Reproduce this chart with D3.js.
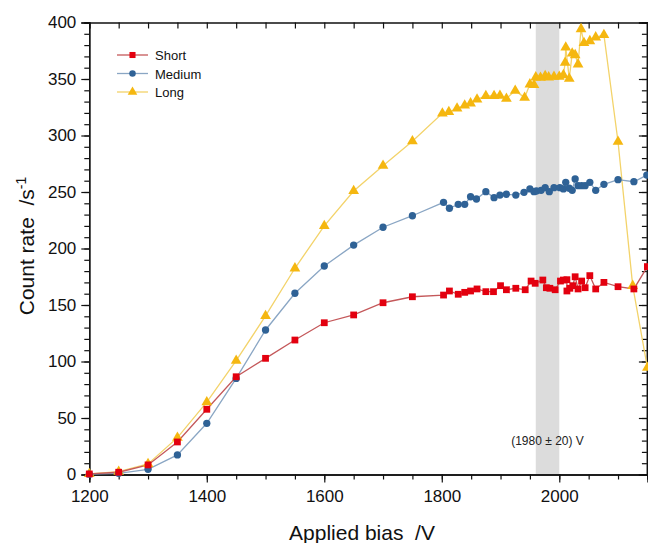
<!DOCTYPE html>
<html><head><meta charset="utf-8">
<script src="https://cdn.jsdelivr.net/npm/d3@7"></script>
<style>html,body{margin:0;padding:0;background:#fff;}svg{display:block;font-family:"Liberation Sans",Arial,sans-serif;}</style>
</head><body>
<svg id="chart" width="648" height="543"></svg>
<script>
const xTicks = [1200,1400,1600,1800,2000];
const yTicks = [0,50,100,150,200,250,300,350,400];
const seriesNames = ["Short","Medium","Long"];

const shortBias = [1200,1250,1300,1350,1400,1450,1500,1550,1600,1650,1700,1750,1803,1813,1828,1839,1849,1860,1875,1888,1900,1910,1926,1942,1952,1959,1972,1978,1984,1993,2002,2007,2013,2013,2018,2023,2027,2032,2038,2044,2052,2062,2076,2100,2127,2150];
const shortRate = [0.5,2,8.5,28.8,57.7,86.5,102.8,119,134.3,141.2,152,157.3,158.8,162.4,159.5,161.2,162.4,164.2,161.8,161.8,167.1,163.5,164.8,163.5,171.2,169.2,172.1,165.3,164.8,163.5,171.2,172.1,172.4,162.4,164.8,167.1,175,164.2,171.2,165.3,176,164.2,170,166.2,164.2,184];

const mediumBias = [1200,1250,1300,1350,1400,1450,1500,1550,1600,1650,1700,1750,1803,1813,1828,1839,1849,1859,1875,1889,1899,1910,1926,1940,1950,1957,1961,1969,1976,1983,1991,2001,2007,2011,2017,2022,2027,2032,2038,2044,2052,2062,2076,2100,2127,2149];
const mediumRate = [0.3,1,4.6,17.3,45.3,85,127.9,160.4,184.5,203,218.8,229,240.9,235.6,239.1,239.1,245.8,243.8,250.3,245,247.3,248,247.3,249.7,252.7,250.3,250.9,251.5,253.8,250.3,253.8,253.8,252.7,258.6,253.3,251.5,261.5,255.6,255.6,255.6,258.6,251.5,256.8,260.9,259.1,265];

const longBias = [1200,1250,1300,1350,1400,1450,1500,1550,1600,1650,1700,1750,1801,1812,1826,1839,1849,1860,1875,1889,1899,1910,1925,1941,1950,1957,1960,1968,1976,1982,1991,2000,2007,2010,2011,2017,2022,2027,2032,2037,2042,2052,2062,2076,2100,2125,2150];
const longRate = [0.5,2.5,9.3,32.6,64,100.7,140.3,182.5,220,250.9,273.3,295,319.6,320.8,324,326.7,328.5,332,335,335,335.2,332.6,339.7,333.5,345.3,344.7,351.5,351.2,352.7,351.5,352,352,353.5,364.4,378,350.3,372.7,371.2,363,394.2,382,383.6,386.9,389,294.5,167,94.5];

const bandRange = [1960,2000];
const bandLabel = "(1980 \u00b1 20) V";

const svg = d3.select("#chart");
const x = d3.scaleLinear().domain([1200,2150]).range([89.3,647.4]);
const y = d3.scaleLinear().domain([0,400]).range([474.5,22.5]);

// band
svg.append("rect").attr("x",x(bandRange[0])).attr("y",y(400))
  .attr("width",x(bandRange[1])-x(bandRange[0])).attr("height",y(0)-y(400))
  .attr("fill","#dcdcdc");
svg.append("text").attr("x",x(1980)).attr("y",y(30)+4).attr("text-anchor","middle")
  .attr("font-size",12).attr("fill","#222").text(bandLabel);

// axes
const axisColor = "#111";
const minorX = d3.range(1200,2151,50);
const minorY = d3.range(0,401,10);
function styleAxis(g){g.select(".domain").attr("stroke",axisColor).attr("stroke-width",1.3);g.selectAll(".tick line").attr("stroke",axisColor).attr("stroke-width",1.2);}

svg.append("g").attr("transform",`translate(0,${y(0)})`)
  .call(d3.axisBottom(x).tickValues(minorX).tickSize(5).tickFormat(""))
  .call(styleAxis);
svg.append("g").attr("transform",`translate(0,${y(0)})`)
  .call(d3.axisBottom(x).tickValues(xTicks).tickSize(8).tickPadding(7).tickFormat(d3.format("d")))
  .call(styleAxis)
  .call(g=>g.selectAll("text").attr("font-size",17).attr("fill","#111").attr("font-family","Liberation Sans, Arial"));
svg.append("g").attr("transform",`translate(0,${y(400)})`)
  .call(d3.axisBottom(x).tickValues(minorX).tickSize(6).tickFormat(""))
  .call(styleAxis);

svg.append("g").attr("transform",`translate(${x(1200)},0)`)
  .call(d3.axisLeft(y).tickValues(minorY).tickSize(5).tickFormat(""))
  .call(styleAxis);
svg.append("g").attr("transform",`translate(${x(1200)},0)`)
  .call(d3.axisLeft(y).tickValues(yTicks).tickSize(8).tickPadding(5).tickFormat(d3.format("d")))
  .call(styleAxis)
  .call(g=>g.selectAll("text").attr("font-size",17).attr("fill","#111").attr("font-family","Liberation Sans, Arial"));
svg.append("g").attr("transform",`translate(${x(2150)-0.5},0)`)
  .call(d3.axisLeft(y).tickValues(minorY).tickSize(5).tickFormat(""))
  .call(styleAxis);
svg.append("g").attr("transform",`translate(${x(2150)-0.5},0)`)
  .call(d3.axisLeft(y).tickValues(yTicks).tickSize(8).tickFormat(""))
  .call(styleAxis);

// axis titles
svg.append("text").attr("x",362).attr("y",540).attr("text-anchor","middle")
  .attr("font-size",21).attr("fill","#111").text("Applied bias\u00a0\u00a0/V");
const yl = svg.append("text").attr("transform","translate(34,246) rotate(-90)")
  .attr("text-anchor","middle").attr("font-size",21).attr("fill","#111");
yl.append("tspan").text("Count rate\u00a0\u00a0/s");
yl.append("tspan").attr("dy",-8).attr("font-size",14).text("-1");

// series
const series = [
  {name:seriesNames[0], xs:shortBias, ys:shortRate, line:"#c4585a", fill:"#e3000f", sym:d3.symbolSquare, size:46},
  {name:seriesNames[1], xs:mediumBias, ys:mediumRate, line:"#8aa6c4", fill:"#2f6296", sym:d3.symbolCircle, size:42},
  {name:seriesNames[2], xs:longBias, ys:longRate, line:"#f3d36a", fill:"#f5b710", sym:d3.symbolTriangle, size:50}
];
const lineGen = d3.line().x(d=>x(d[0])).y(d=>y(d[1]));
series.slice().reverse().forEach(s=>{
  const pts = s.xs.map((v,i)=>[v,s.ys[i]]);
  svg.append("path").datum(pts).attr("d",lineGen).attr("fill","none")
    .attr("stroke",s.line).attr("stroke-width",1.3);
});
series.slice().reverse().forEach(s=>{
  const pts = s.xs.map((v,i)=>[v,s.ys[i]]);
  svg.append("g").selectAll("path").data(pts).join("path")
    .attr("transform",d=>`translate(${x(d[0])},${y(d[1])})`)
    .attr("d",d3.symbol().type(s.sym).size(s.size)).attr("fill",s.fill);
});

// legend
const lg = svg.append("g").attr("transform","translate(117,55)");
series.forEach((s,i)=>{
  const row = lg.append("g").attr("transform",`translate(0,${i*18.5})`);
  row.append("line").attr("x1",0).attr("x2",31).attr("y1",0).attr("y2",0).attr("stroke",s.line).attr("stroke-width",1.3);
  row.append("path").attr("transform","translate(15.5,0)").attr("d",d3.symbol().type(s.sym).size(s.size*0.8)).attr("fill",s.fill);
  row.append("text").attr("x",38).attr("y",5).attr("font-size",13).attr("fill","#111").text(s.name);
});
</script>
</body></html>
